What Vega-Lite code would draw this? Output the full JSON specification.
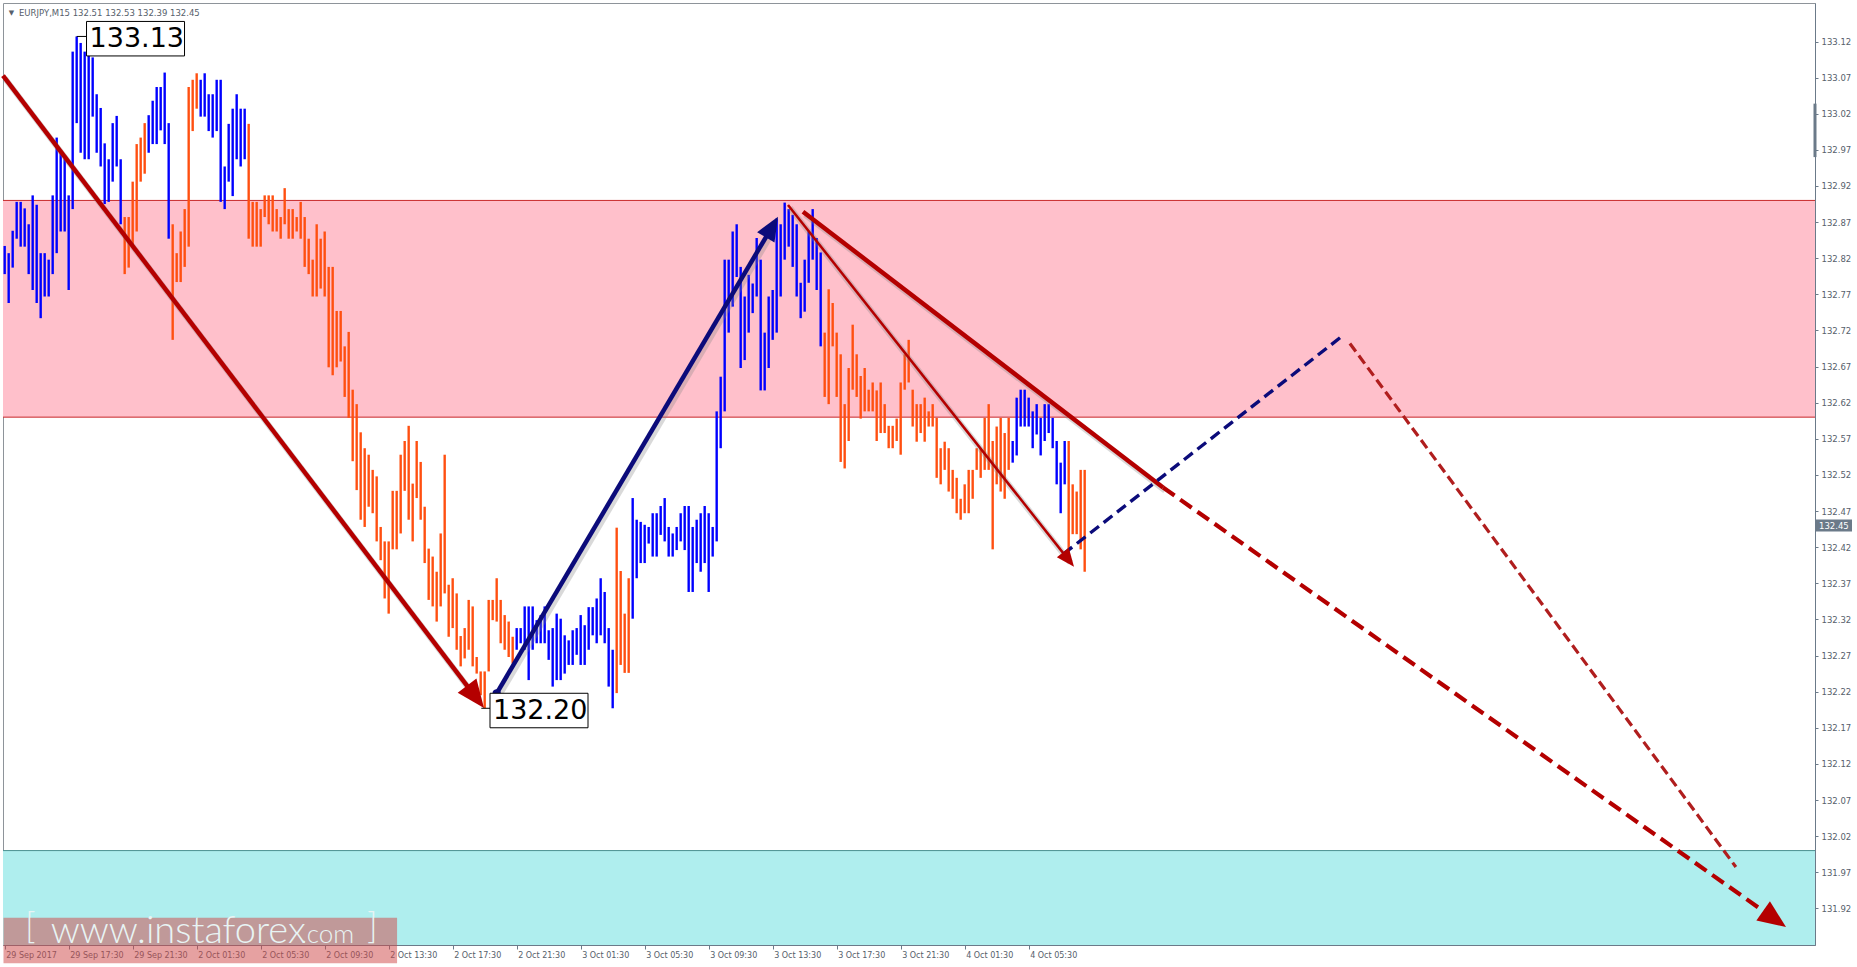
{
 "$schema": "https://vega.github.io/schema/vega-lite/v6.json",
 "width": 1812,
 "height": 942,
 "autosize": {"type": "none"},
 "padding": {"left": 3, "top": 3, "right": 42, "bottom": 22},
 "background": "#FFFFFF",
 "config": {
  "view": {"stroke": "#8E949A", "strokeWidth": 1},
  "axis": {"grid": false, "title": null, "labelFont": "DejaVu Sans", "labelColor": "#56606B", "domainColor": "#6B7A89", "tickColor": "#6B7A89", "zindex": 1}
 },
 "datasets": {
  "bars": [
   {"i":0,"p":132.837,"p2":132.798,"d":"u"},{"i":1,"p":132.827,"p2":132.758,"d":"u"},{"i":2,"p":132.858,"p2":132.807,"d":"u"},{"i":3,"p":132.898,"p2":132.847,"d":"u"},{"i":4,"p":132.898,"p2":132.836,"d":"u"},
   {"i":5,"p":132.889,"p2":132.836,"d":"u"},{"i":6,"p":132.867,"p2":132.798,"d":"u"},{"i":7,"p":132.907,"p2":132.776,"d":"u"},{"i":8,"p":132.894,"p2":132.758,"d":"u"},{"i":9,"p":132.827,"p2":132.737,"d":"u"},
   {"i":10,"p":132.827,"p2":132.767,"d":"u"},{"i":11,"p":132.818,"p2":132.767,"d":"u"},{"i":12,"p":132.907,"p2":132.798,"d":"u"},{"i":13,"p":132.987,"p2":132.827,"d":"u"},{"i":14,"p":132.970,"p2":132.857,"d":"u"},
   {"i":15,"p":132.958,"p2":132.857,"d":"u"},{"i":16,"p":132.907,"p2":132.776,"d":"u"},{"i":17,"p":133.106,"p2":132.888,"d":"u"},{"i":18,"p":133.127,"p2":133.007,"d":"u"},{"i":19,"p":133.118,"p2":132.966,"d":"u"},
   {"i":20,"p":133.106,"p2":132.957,"d":"u"},{"i":21,"p":133.106,"p2":132.957,"d":"u"},{"i":22,"p":133.098,"p2":133.016,"d":"u"},{"i":23,"p":133.047,"p2":132.966,"d":"u"},{"i":24,"p":133.028,"p2":132.947,"d":"u"},
   {"i":25,"p":132.979,"p2":132.895,"d":"u"},{"i":26,"p":132.957,"p2":132.898,"d":"u"},{"i":27,"p":133.007,"p2":132.926,"d":"u"},{"i":28,"p":133.017,"p2":132.947,"d":"u"},{"i":29,"p":132.957,"p2":132.867,"d":"u"},
   {"i":30,"p":132.877,"p2":132.798,"d":"d"},{"i":31,"p":132.877,"p2":132.807,"d":"d"},{"i":32,"p":132.926,"p2":132.836,"d":"d"},{"i":33,"p":132.978,"p2":132.857,"d":"d"},{"i":34,"p":132.987,"p2":132.926,"d":"d"},
   {"i":35,"p":133.007,"p2":132.937,"d":"d"},{"i":36,"p":133.018,"p2":132.966,"d":"u"},{"i":37,"p":133.038,"p2":132.978,"d":"u"},{"i":38,"p":133.057,"p2":132.978,"d":"u"},{"i":39,"p":133.057,"p2":132.997,"d":"u"},
   {"i":40,"p":133.077,"p2":132.978,"d":"u"},{"i":41,"p":133.007,"p2":132.847,"d":"u"},{"i":42,"p":132.867,"p2":132.707,"d":"d"},{"i":43,"p":132.827,"p2":132.787,"d":"d"},{"i":44,"p":132.857,"p2":132.787,"d":"d"},
   {"i":45,"p":132.888,"p2":132.808,"d":"d"},{"i":46,"p":133.057,"p2":132.836,"d":"d"},{"i":47,"p":133.067,"p2":132.996,"d":"d"},{"i":48,"p":133.076,"p2":133.027,"d":"d"},{"i":49,"p":133.067,"p2":133.016,"d":"u"},
   {"i":50,"p":133.076,"p2":133.016,"d":"u"},{"i":51,"p":133.047,"p2":132.996,"d":"u"},{"i":52,"p":133.047,"p2":132.987,"d":"u"},{"i":53,"p":133.067,"p2":132.996,"d":"u"},{"i":54,"p":133.067,"p2":132.898,"d":"u"},
   {"i":55,"p":132.947,"p2":132.888,"d":"u"},{"i":56,"p":133.006,"p2":132.926,"d":"u"},{"i":57,"p":133.027,"p2":132.906,"d":"u"},{"i":58,"p":133.047,"p2":132.957,"d":"u"},{"i":59,"p":133.027,"p2":132.947,"d":"u"},
   {"i":60,"p":133.027,"p2":132.957,"d":"u"},{"i":61,"p":133.006,"p2":132.847,"d":"d"},{"i":62,"p":132.898,"p2":132.836,"d":"d"},{"i":63,"p":132.898,"p2":132.836,"d":"d"},{"i":64,"p":132.888,"p2":132.836,"d":"d"},
   {"i":65,"p":132.907,"p2":132.877,"d":"d"},{"i":66,"p":132.907,"p2":132.867,"d":"d"},{"i":67,"p":132.907,"p2":132.857,"d":"d"},{"i":68,"p":132.888,"p2":132.857,"d":"d"},{"i":69,"p":132.877,"p2":132.847,"d":"d"},
   {"i":70,"p":132.917,"p2":132.867,"d":"d"},{"i":71,"p":132.888,"p2":132.847,"d":"d"},{"i":72,"p":132.888,"p2":132.847,"d":"d"},{"i":73,"p":132.877,"p2":132.857,"d":"d"},{"i":74,"p":132.898,"p2":132.847,"d":"d"},
   {"i":75,"p":132.877,"p2":132.808,"d":"d"},{"i":76,"p":132.847,"p2":132.798,"d":"d"},{"i":77,"p":132.818,"p2":132.767,"d":"d"},{"i":78,"p":132.867,"p2":132.767,"d":"d"},{"i":79,"p":132.847,"p2":132.778,"d":"d"},
   {"i":80,"p":132.857,"p2":132.767,"d":"d"},{"i":81,"p":132.808,"p2":132.669,"d":"d"},{"i":82,"p":132.808,"p2":132.658,"d":"d"},{"i":83,"p":132.747,"p2":132.669,"d":"d"},{"i":84,"p":132.747,"p2":132.677,"d":"d"},
   {"i":85,"p":132.698,"p2":132.628,"d":"d"},{"i":86,"p":132.718,"p2":132.599,"d":"d"},{"i":87,"p":132.638,"p2":132.539,"d":"d"},{"i":88,"p":132.618,"p2":132.499,"d":"d"},{"i":89,"p":132.579,"p2":132.458,"d":"d"},
   {"i":90,"p":132.557,"p2":132.448,"d":"d"},{"i":91,"p":132.548,"p2":132.476,"d":"d"},{"i":92,"p":132.527,"p2":132.467,"d":"d"},{"i":93,"p":132.518,"p2":132.428,"d":"d"},{"i":94,"p":132.448,"p2":132.402,"d":"d"},
   {"i":95,"p":132.428,"p2":132.349,"d":"d"},{"i":96,"p":132.428,"p2":132.328,"d":"d"},{"i":97,"p":132.498,"p2":132.417,"d":"d"},{"i":98,"p":132.498,"p2":132.417,"d":"d"},{"i":99,"p":132.548,"p2":132.439,"d":"d"},
   {"i":100,"p":132.567,"p2":132.498,"d":"d"},{"i":101,"p":132.588,"p2":132.458,"d":"d"},{"i":102,"p":132.508,"p2":132.428,"d":"d"},{"i":103,"p":132.567,"p2":132.488,"d":"d"},{"i":104,"p":132.538,"p2":132.458,"d":"d"},
   {"i":105,"p":132.476,"p2":132.398,"d":"d"},{"i":106,"p":132.418,"p2":132.347,"d":"d"},{"i":107,"p":132.407,"p2":132.338,"d":"d"},{"i":108,"p":132.386,"p2":132.317,"d":"d"},{"i":109,"p":132.439,"p2":132.338,"d":"d"},
   {"i":110,"p":132.548,"p2":132.356,"d":"d"},{"i":111,"p":132.368,"p2":132.296,"d":"d"},{"i":112,"p":132.377,"p2":132.308,"d":"d"},{"i":113,"p":132.356,"p2":132.278,"d":"d"},{"i":114,"p":132.297,"p2":132.255,"d":"d"},
   {"i":115,"p":132.308,"p2":132.266,"d":"d"},{"i":116,"p":132.347,"p2":132.278,"d":"d"},{"i":117,"p":132.338,"p2":132.255,"d":"d"},{"i":118,"p":132.268,"p2":132.245,"d":"d"},{"i":119,"p":132.248,"p2":132.215,"d":"d"},
   {"i":120,"p":132.248,"p2":132.197,"d":"d"},{"i":121,"p":132.347,"p2":132.248,"d":"d"},{"i":122,"p":132.347,"p2":132.319,"d":"d"},{"i":123,"p":132.377,"p2":132.317,"d":"d"},{"i":124,"p":132.347,"p2":132.287,"d":"d"},
   {"i":125,"p":132.326,"p2":132.278,"d":"d"},{"i":126,"p":132.317,"p2":132.268,"d":"d"},{"i":127,"p":132.296,"p2":132.259,"d":"d"},{"i":128,"p":132.308,"p2":132.278,"d":"u"},{"i":129,"p":132.308,"p2":132.287,"d":"u"},
   {"i":130,"p":132.338,"p2":132.278,"d":"u"},{"i":131,"p":132.338,"p2":132.236,"d":"u"},{"i":132,"p":132.338,"p2":132.278,"d":"u"},{"i":133,"p":132.319,"p2":132.287,"d":"u"},{"i":134,"p":132.326,"p2":132.287,"d":"u"},
   {"i":135,"p":132.338,"p2":132.287,"d":"u"},{"i":136,"p":132.305,"p2":132.264,"d":"u"},{"i":137,"p":132.308,"p2":132.227,"d":"u"},{"i":138,"p":132.328,"p2":132.236,"d":"u"},{"i":139,"p":132.321,"p2":132.236,"d":"u"},
   {"i":140,"p":132.298,"p2":132.245,"d":"u"},{"i":141,"p":132.291,"p2":132.257,"d":"u"},{"i":142,"p":132.305,"p2":132.257,"d":"u"},{"i":143,"p":132.308,"p2":132.271,"d":"u"},{"i":144,"p":132.326,"p2":132.257,"d":"u"},
   {"i":145,"p":132.312,"p2":132.257,"d":"u"},{"i":146,"p":132.337,"p2":132.278,"d":"u"},{"i":147,"p":132.337,"p2":132.298,"d":"u"},{"i":148,"p":132.349,"p2":132.287,"d":"u"},{"i":149,"p":132.377,"p2":132.298,"d":"u"},
   {"i":150,"p":132.358,"p2":132.287,"d":"u"},{"i":151,"p":132.308,"p2":132.227,"d":"u"},{"i":152,"p":132.278,"p2":132.197,"d":"u"},{"i":153,"p":132.447,"p2":132.218,"d":"d"},{"i":154,"p":132.387,"p2":132.257,"d":"d"},
   {"i":155,"p":132.328,"p2":132.246,"d":"d"},{"i":156,"p":132.377,"p2":132.246,"d":"d"},{"i":157,"p":132.488,"p2":132.321,"d":"u"},{"i":158,"p":132.458,"p2":132.377,"d":"u"},{"i":159,"p":132.455,"p2":132.398,"d":"u"},
   {"i":160,"p":132.451,"p2":132.398,"d":"u"},{"i":161,"p":132.448,"p2":132.425,"d":"u"},{"i":162,"p":132.467,"p2":132.407,"d":"u"},{"i":163,"p":132.467,"p2":132.407,"d":"u"},{"i":164,"p":132.477,"p2":132.437,"d":"u"},
   {"i":165,"p":132.488,"p2":132.428,"d":"u"},{"i":166,"p":132.448,"p2":132.407,"d":"u"},{"i":167,"p":132.439,"p2":132.407,"d":"u"},{"i":168,"p":132.448,"p2":132.416,"d":"u"},{"i":169,"p":132.467,"p2":132.428,"d":"u"},
   {"i":170,"p":132.477,"p2":132.416,"d":"u"},{"i":171,"p":132.477,"p2":132.358,"d":"u"},{"i":172,"p":132.448,"p2":132.358,"d":"u"},{"i":173,"p":132.458,"p2":132.398,"d":"u"},{"i":174,"p":132.467,"p2":132.386,"d":"u"},
   {"i":175,"p":132.477,"p2":132.398,"d":"u"},{"i":176,"p":132.467,"p2":132.358,"d":"u"},{"i":177,"p":132.448,"p2":132.407,"d":"u"},{"i":178,"p":132.608,"p2":132.428,"d":"u"},{"i":179,"p":132.656,"p2":132.557,"d":"u"},
   {"i":180,"p":132.818,"p2":132.608,"d":"u"},{"i":181,"p":132.818,"p2":132.717,"d":"u"},{"i":182,"p":132.857,"p2":132.753,"d":"u"},{"i":183,"p":132.867,"p2":132.794,"d":"u"},{"i":184,"p":132.808,"p2":132.668,"d":"u"},
   {"i":185,"p":132.767,"p2":132.679,"d":"u"},{"i":186,"p":132.797,"p2":132.717,"d":"u"},{"i":187,"p":132.785,"p2":132.744,"d":"u"},{"i":188,"p":132.848,"p2":132.767,"d":"u"},{"i":189,"p":132.818,"p2":132.637,"d":"u"},
   {"i":190,"p":132.717,"p2":132.637,"d":"u"},{"i":191,"p":132.767,"p2":132.668,"d":"u"},{"i":192,"p":132.776,"p2":132.707,"d":"u"},{"i":193,"p":132.875,"p2":132.717,"d":"u"},{"i":194,"p":132.867,"p2":132.767,"d":"u"},
   {"i":195,"p":132.897,"p2":132.818,"d":"u"},{"i":196,"p":132.888,"p2":132.836,"d":"u"},{"i":197,"p":132.880,"p2":132.808,"d":"u"},{"i":198,"p":132.867,"p2":132.767,"d":"u"},{"i":199,"p":132.786,"p2":132.737,"d":"u"},
   {"i":200,"p":132.818,"p2":132.746,"d":"u"},{"i":201,"p":132.857,"p2":132.786,"d":"u"},{"i":202,"p":132.888,"p2":132.818,"d":"u"},{"i":203,"p":132.848,"p2":132.776,"d":"u"},{"i":204,"p":132.828,"p2":132.698,"d":"u"},
   {"i":205,"p":132.717,"p2":132.628,"d":"d"},{"i":206,"p":132.777,"p2":132.618,"d":"d"},{"i":207,"p":132.758,"p2":132.698,"d":"d"},{"i":208,"p":132.717,"p2":132.628,"d":"d"},{"i":209,"p":132.687,"p2":132.538,"d":"d"},
   {"i":210,"p":132.618,"p2":132.529,"d":"d"},{"i":211,"p":132.668,"p2":132.567,"d":"d"},{"i":212,"p":132.728,"p2":132.638,"d":"d"},{"i":213,"p":132.687,"p2":132.628,"d":"d"},{"i":214,"p":132.657,"p2":132.598,"d":"d"},
   {"i":215,"p":132.668,"p2":132.608,"d":"d"},{"i":216,"p":132.638,"p2":132.608,"d":"d"},{"i":217,"p":132.648,"p2":132.608,"d":"d"},{"i":218,"p":132.637,"p2":132.567,"d":"d"},{"i":219,"p":132.648,"p2":132.578,"d":"d"},
   {"i":220,"p":132.618,"p2":132.578,"d":"d"},{"i":221,"p":132.588,"p2":132.557,"d":"d"},{"i":222,"p":132.588,"p2":132.557,"d":"d"},{"i":223,"p":132.598,"p2":132.567,"d":"d"},{"i":224,"p":132.648,"p2":132.548,"d":"d"},
   {"i":225,"p":132.687,"p2":132.638,"d":"d"},{"i":226,"p":132.707,"p2":132.648,"d":"d"},{"i":227,"p":132.638,"p2":132.587,"d":"d"},{"i":228,"p":132.618,"p2":132.566,"d":"d"},{"i":229,"p":132.618,"p2":132.578,"d":"d"},
   {"i":230,"p":132.627,"p2":132.566,"d":"d"},{"i":231,"p":132.608,"p2":132.587,"d":"d"},{"i":232,"p":132.618,"p2":132.587,"d":"d"},{"i":233,"p":132.599,"p2":132.516,"d":"d"},{"i":234,"p":132.557,"p2":132.507,"d":"d"},
   {"i":235,"p":132.566,"p2":132.527,"d":"d"},{"i":236,"p":132.557,"p2":132.497,"d":"d"},{"i":237,"p":132.527,"p2":132.487,"d":"d"},{"i":238,"p":132.516,"p2":132.467,"d":"d"},{"i":239,"p":132.487,"p2":132.458,"d":"d"},
   {"i":240,"p":132.507,"p2":132.467,"d":"d"},{"i":241,"p":132.527,"p2":132.467,"d":"d"},{"i":242,"p":132.527,"p2":132.487,"d":"d"},{"i":243,"p":132.557,"p2":132.527,"d":"d"},{"i":244,"p":132.557,"p2":132.516,"d":"d"},
   {"i":245,"p":132.599,"p2":132.527,"d":"d"},{"i":246,"p":132.618,"p2":132.527,"d":"d"},{"i":247,"p":132.567,"p2":132.417,"d":"d"},{"i":248,"p":132.587,"p2":132.507,"d":"d"},{"i":249,"p":132.599,"p2":132.497,"d":"d"},
   {"i":250,"p":132.578,"p2":132.487,"d":"d"},{"i":251,"p":132.599,"p2":132.527,"d":"d"},{"i":252,"p":132.567,"p2":132.537,"d":"u"},{"i":253,"p":132.627,"p2":132.547,"d":"u"},{"i":254,"p":132.638,"p2":132.587,"d":"u"},
   {"i":255,"p":132.638,"p2":132.587,"d":"u"},{"i":256,"p":132.627,"p2":132.587,"d":"u"},{"i":257,"p":132.608,"p2":132.557,"d":"u"},{"i":258,"p":132.618,"p2":132.576,"d":"u"},{"i":259,"p":132.599,"p2":132.547,"d":"u"},
   {"i":260,"p":132.618,"p2":132.567,"d":"u"},{"i":261,"p":132.618,"p2":132.578,"d":"u"},{"i":262,"p":132.599,"p2":132.557,"d":"u"},{"i":263,"p":132.567,"p2":132.507,"d":"u"},{"i":264,"p":132.537,"p2":132.467,"d":"u"},
   {"i":265,"p":132.567,"p2":132.507,"d":"u"},{"i":266,"p":132.567,"p2":132.407,"d":"d"},{"i":267,"p":132.507,"p2":132.438,"d":"d"},{"i":268,"p":132.497,"p2":132.438,"d":"d"},{"i":269,"p":132.527,"p2":132.417,"d":"d"},
   {"i":270,"p":132.527,"p2":132.386,"d":"d"}
  ],
  "bands": [
   {"k":"pink","i":-0.42,"i2":452.58,"p":132.90,"p2":132.60},
   {"k":"cyan","i":-0.42,"i2":452.58,"p":132.00,"p2":131.8693}
  ],
  "levels": [
   {"k":"r","i":-0.42,"i2":452.58,"p":132.90},
   {"k":"r","i":-0.42,"i2":452.58,"p":132.60},
   {"k":"c","i":-0.42,"i2":452.58,"p":132.00}
  ],
  "lines": [
   {"k":"a1","i":-0.42,"p":133.0729},{"k":"a1","i":117.71,"p":132.2127},
   {"k":"a2","i":123.0,"p":132.2177},{"k":"a2","i":191.81,"p":132.8632},
   {"k":"a3","i":195.83,"p":132.8937},{"k":"a3","i":265.93,"p":132.4028},
   {"k":"a4","i":199.58,"p":132.8844},{"k":"a4","i":289.6,"p":132.5026},
   {"k":"a5","i":289.6,"p":132.5026},{"k":"a5","i":442.48,"p":131.9054},
   {"k":"a6","i":264.7,"p":132.4106},{"k":"a6","i":334.3,"p":132.7119},
   {"k":"a7","i":336.3,"p":132.702},{"k":"a7","i":432.8,"p":131.9773}
  ],
  "heads": [
   {"k":"h1","i":119.83,"p":132.1974},
   {"k":"h2","i":193.33,"p":132.8775},
   {"k":"h3","i":267.33,"p":132.393},
   {"k":"h5","i":445.33,"p":131.8942},
   {"k":"dot","i":123.0,"p":132.2177}
  ],
  "labels": [
   {"i":18,"ib":20.46,"p":133.127,"t":"133.13"},
   {"i":119.16,"ib":121.33,"p":132.197,"t":"132.20"}
  ],
  "wm": [
   {"i":-0.3,"i2":98.1,"p":131.907,"p2":131.844}
  ],
  "notes": [
   {"k":"b1","i":5.08,"p":131.879,"t":"["},
   {"k":"w1","i":11.5,"p":131.872,"t":"www.instaforex"},
   {"k":"w2","i":74.0,"p":131.872,"t":".com"},
   {"k":"b2","i":90.6,"p":131.879,"t":"]"},
   {"k":"tri","i":1.0,"p":133.1601,"t":"▼"},
   {"k":"hdr","i":3.58,"p":133.1601,"t":"EURJPY,M15  132.51 132.53 132.39 132.45"}
  ],
  "tag": [
   {"i":452.58,"p":132.45,"t":"132.45"}
  ],
  "shift": [
   {"i":452.58,"p":133.034,"p2":132.96}
  ]
 },
 "encoding": {
  "x": {"field": "i", "type": "quantitative",
   "scale": {"domain": [-0.42, 452.58], "nice": false, "zero": false},
   "axis": {"orient": "bottom", "values": [0,16,32,48,64,80,96,112,128,144,160,176,192,208,224,240,256],
    "labelExpr": "['29 Sep 2017','29 Sep 17:30','29 Sep 21:30','2 Oct 01:30','2 Oct 05:30','2 Oct 09:30','2 Oct 13:30','2 Oct 17:30','2 Oct 21:30','3 Oct 01:30','3 Oct 05:30','3 Oct 09:30','3 Oct 13:30','3 Oct 17:30','3 Oct 21:30','4 Oct 01:30','4 Oct 05:30'][round(datum.value/16)]",
    "labelAlign": "left", "labelBaseline": "top", "labelFontSize": 8, "labelPadding": 2, "tickSize": 4, "labelOffset": 1,
    "labelOverlap": false, "labelFlush": false, "labelBound": false, "title": null}},
  "y": {"field": "p", "type": "quantitative",
   "scale": {"domain": [131.8693, 133.1733], "nice": false, "zero": false},
   "axis": {"orient": "right", "values": [131.92,131.97,132.02,132.07,132.12,132.17,132.22,132.27,132.32,132.37,132.42,132.47,132.52,132.57,132.62,132.67,132.72,132.77,132.82,132.87,132.92,132.97,133.02,133.07,133.12],
    "format": ".2f", "labelFontSize": 8.5, "tickSize": 3, "labelPadding": 3, "labelBaseline": "middle", "labelOverlap": false, "labelFlush": false, "labelBound": false, "title": null}}
 },
 "layer": [
  {"data": {"name": "bands"}, "transform": [{"filter": "datum.k == 'pink'"}], "mark": {"type": "rect", "color": "#FFC0CB"}, "encoding": {"x2": {"field": "i2"}, "y2": {"field": "p2"}}},
  {"data": {"name": "bands"}, "transform": [{"filter": "datum.k == 'cyan'"}], "mark": {"type": "rect", "color": "#AFEEEE"}, "encoding": {"x2": {"field": "i2"}, "y2": {"field": "p2"}}},
  {"data": {"name": "levels"}, "transform": [{"filter": "datum.k == 'r'"}], "mark": {"type": "rule", "color": "#C8282A", "strokeWidth": 1}, "encoding": {"x2": {"field": "i2"}}},
  {"data": {"name": "levels"}, "transform": [{"filter": "datum.k == 'c'"}], "mark": {"type": "rule", "color": "#4A9090", "strokeWidth": 1}, "encoding": {"x2": {"field": "i2"}}},
  {"data": {"name": "bars"}, "transform": [{"filter": "datum.d == 'u'"}], "mark": {"type": "rule", "color": "#0000FF", "strokeWidth": 2.4}, "encoding": {"y2": {"field": "p2"}}},
  {"data": {"name": "bars"}, "transform": [{"filter": "datum.d == 'd'"}], "mark": {"type": "rule", "color": "#FF4F10", "strokeWidth": 2.4}, "encoding": {"y2": {"field": "p2"}}},
  {"data": {"name": "lines"}, "transform": [{"filter": "indexof(['a1','a2','a3','a4'], datum.k) >= 0"}], "mark": {"type": "line", "color": "#808080", "opacity": 0.3, "strokeWidth": 6, "xOffset": 2, "yOffset": 3}, "encoding": {"detail": {"field": "k"}}},
  {"data": {"name": "lines"}, "transform": [{"filter": "datum.k == 'a1'"}], "mark": {"type": "line", "color": "#B40000", "strokeWidth": 4.5}, "encoding": {}},
  {"data": {"name": "lines"}, "transform": [{"filter": "datum.k == 'a2'"}], "mark": {"type": "line", "color": "#0B0B7A", "strokeWidth": 4.5}, "encoding": {}},
  {"data": {"name": "lines"}, "transform": [{"filter": "datum.k == 'a3'"}], "mark": {"type": "line", "color": "#B40000", "strokeWidth": 2.5}, "encoding": {}},
  {"data": {"name": "lines"}, "transform": [{"filter": "datum.k == 'a4'"}], "mark": {"type": "line", "color": "#B40000", "strokeWidth": 4.5}, "encoding": {}},
  {"data": {"name": "lines"}, "transform": [{"filter": "datum.k == 'a5'"}], "mark": {"type": "line", "color": "#B40000", "strokeWidth": 4.2, "strokeDash": [14, 7]}, "encoding": {}},
  {"data": {"name": "lines"}, "transform": [{"filter": "datum.k == 'a6'"}], "mark": {"type": "line", "color": "#0B0B7A", "strokeWidth": 3.4, "strokeDash": [11, 6]}, "encoding": {}},
  {"data": {"name": "lines"}, "transform": [{"filter": "datum.k == 'a7'"}], "mark": {"type": "line", "color": "#B01E1E", "strokeWidth": 3.2, "strokeDash": [10, 5]}, "encoding": {}},
  {"data": {"name": "heads"}, "transform": [{"filter": "datum.k == 'h1'"}], "mark": {"type": "point", "filled": true, "opacity": 1, "color": "#B40000", "shape": "M0,0L-0.42,1L0.42,1Z", "size": 3136, "angle": 142.75}},
  {"data": {"name": "heads"}, "transform": [{"filter": "datum.k == 'h2'"}], "mark": {"type": "point", "filled": true, "opacity": 1, "color": "#0B0B7A", "shape": "M0,0L-0.42,1L0.42,1Z", "size": 2304, "angle": 30.55}},
  {"data": {"name": "heads"}, "transform": [{"filter": "datum.k == 'h3'"}], "mark": {"type": "point", "filled": true, "opacity": 1, "color": "#B40000", "shape": "M0,0L-0.42,1L0.42,1Z", "size": 1296, "angle": 141.67}},
  {"data": {"name": "heads"}, "transform": [{"filter": "datum.k == 'h5'"}], "mark": {"type": "point", "filled": true, "opacity": 1, "color": "#B40000", "shape": "M0,0L-0.42,1L0.42,1Z", "size": 3136, "angle": 125.3}},
  {"data": {"name": "heads"}, "transform": [{"filter": "datum.k == 'dot'"}], "mark": {"type": "point", "filled": true, "opacity": 1, "color": "#0B0B7A", "shape": "circle", "size": 70}},
  {"data": {"name": "labels"}, "mark": {"type": "rule", "color": "#000000", "strokeWidth": 1}, "encoding": {"x2": {"field": "ib"}}},
  {"data": {"name": "labels"}, "mark": {"type": "rect", "fill": "#FFFFFF", "stroke": "#000000", "strokeWidth": 1, "x2Offset": 98, "yOffset": -15, "y2Offset": 19.5}, "encoding": {"x": {"field": "ib", "type": "quantitative"}, "x2": {"field": "ib"}, "y2": {"field": "p"}}},
  {"data": {"name": "labels"}, "mark": {"type": "text", "font": "DejaVu Sans", "fontSize": 27, "color": "#000000", "align": "left", "baseline": "middle", "dx": 3, "dy": 2.5}, "encoding": {"x": {"field": "ib", "type": "quantitative"}, "text": {"field": "t"}}},
  {"data": {"name": "wm"}, "mark": {"type": "rect", "color": "#CF4A4A", "opacity": 0.52}, "encoding": {"x2": {"field": "i2"}, "y2": {"field": "p2"}}},
  {"data": {"name": "notes"}, "transform": [{"filter": "datum.k == 'b1' || datum.k == 'b2'"}], "mark": {"type": "text", "font": "Lato", "fontWeight": 300, "fontSize": 36, "color": "#E8F4F4", "align": "left", "baseline": "alphabetic"}, "encoding": {"text": {"field": "t"}}},
  {"data": {"name": "notes"}, "transform": [{"filter": "datum.k == 'w1'"}], "mark": {"type": "text", "font": "Lato", "fontWeight": 300, "fontSize": 38, "color": "#E8F4F4", "align": "left", "baseline": "alphabetic"}, "encoding": {"text": {"field": "t"}}},
  {"data": {"name": "notes"}, "transform": [{"filter": "datum.k == 'w2'"}], "mark": {"type": "text", "font": "Lato", "fontWeight": 300, "fontSize": 26, "color": "#E8F4F4", "align": "left", "baseline": "alphabetic"}, "encoding": {"text": {"field": "t"}}},
  {"data": {"name": "notes"}, "transform": [{"filter": "datum.k == 'tri'"}], "mark": {"type": "text", "font": "DejaVu Sans", "fontSize": 7, "color": "#56606B", "align": "left", "baseline": "middle"}, "encoding": {"text": {"field": "t"}}},
  {"data": {"name": "notes"}, "transform": [{"filter": "datum.k == 'hdr'"}], "mark": {"type": "text", "font": "DejaVu Sans", "fontSize": 8.5, "color": "#56606B", "align": "left", "baseline": "middle"}, "encoding": {"text": {"field": "t"}}},
  {"data": {"name": "shift"}, "mark": {"type": "rule", "color": "#6B7A89", "strokeWidth": 3}, "encoding": {"y2": {"field": "p2"}}},
  {"data": {"name": "tag"}, "mark": {"type": "rect", "color": "#6B7A89", "x2Offset": 37, "yOffset": -6, "y2Offset": 6}, "encoding": {"x2": {"field": "i"}, "y2": {"field": "p"}}},
  {"data": {"name": "tag"}, "mark": {"type": "text", "font": "DejaVu Sans", "fontSize": 8.5, "color": "#FFFFFF", "align": "left", "baseline": "middle", "dx": 4}, "encoding": {"text": {"field": "t"}}}
 ]
}
